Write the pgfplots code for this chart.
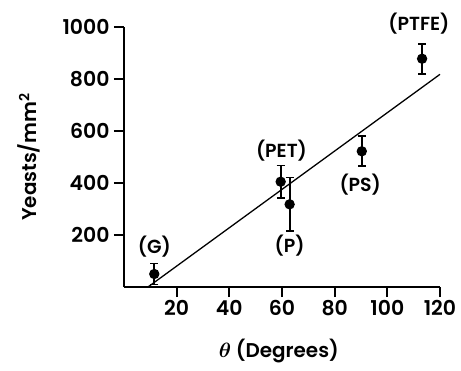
\documentclass[border=0pt]{standalone}
\usepackage{pgfplots}
\pgfplotsset{compat=1.18}
\usepackage{fontspec}
\setmainfont{Poppins}[UprightFont=* SemiBold, BoldFont=* Bold]
\begin{document}
\begin{tikzpicture}
\begin{axis}[
  scale only axis, width=316bp, height=260bp,
  xmin=0, xmax=120, ymin=0, ymax=1000,
  axis lines*=left,
  axis line style={line width=1.7pt},
  xtick={20,40,60,80,100,120},
  ytick={200,400,600,800,1000},
  tick align=outside, major tick length=10bp,
  tick style={line width=1.7pt, black},
  ticklabel style={font=\fontsize{20.5}{23}\selectfont},
  yticklabel style={xshift=-1bp},
  /pgf/number format/assume math mode=true,
  /pgf/number format/1000 sep={},
  xlabel={{\boldmath$\theta$} (Degrees)},
  ylabel={Yeasts/mm\textsuperscript{2}},
  label style={font=\fontsize{20}{23}\selectfont},
  xlabel style={at={(axis description cs:0.49,-0.245)}, anchor=center},
  ylabel style={at={(axis description cs:-0.3,0.5)}, anchor=center},
  clip=false,
]
\addplot[black, line width=1.3pt, no marks] coordinates {(9.1,0) (120,818)};
\addplot[black, only marks, mark=*, mark size=4.5bp, line width=1.3pt,
  error bars/.cd, y dir=both, y explicit,
  error bar style={line width=1.8pt},
  error mark options={rotate=90, mark size=4bp, line width=1.8pt}]
  coordinates {
  (11.5,50) +- (0,40)
  (59.5,405) +- (0,62)
  (62.9,318) +- (0,103)
  (90.3,522) +- (0,58)
  (113.2,878) +- (0,58)
  };
\begin{scope}[font=\fontsize{19}{22}\selectfont]
\node at (axis cs:11.5,155) {(G)};
\node at (axis cs:59.8,526) {(PET)};
\node at (axis cs:62.9,158) {(P)};
\node at (axis cs:89.7,394) {(PS)};
\node at (axis cs:112,1012) {(PTFE)};
\end{scope}
\end{axis}
\path[use as bounding box] (-124bp,-84bp) rectangle (337bp,287bp);
\end{tikzpicture}
\end{document}
